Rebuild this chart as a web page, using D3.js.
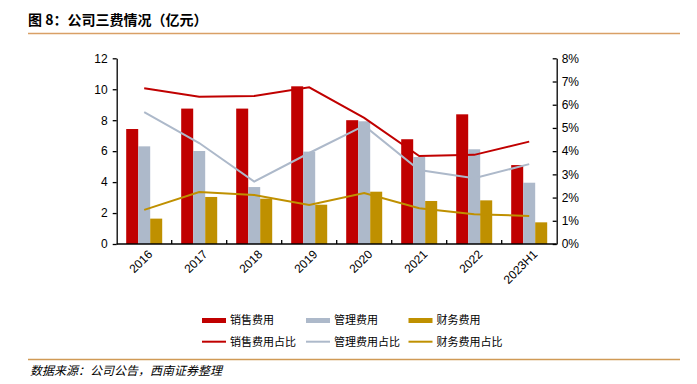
<!DOCTYPE html>
<html>
<head>
<meta charset="utf-8">
<script src="https://cdn.jsdelivr.net/npm/d3@7"></script>
<style>
  body { margin: 0; background: #fff; }
  svg { display: block; }
  .axis text { font-family: Arial, "Liberation Sans", sans-serif; font-size: 12px; fill: #000; }
  .axis path, .axis line { stroke: #000; stroke-width: 1.3; }
</style>
</head>
<body>
<svg id="chart" width="697" height="384"></svg>
<script>
// categories and values (亿元 / 占比%)
var years = ["2016", "2017", "2018", "2019", "2020", "2021", "2022", "2023H1"];
var sales = [7.43, 8.75, 8.75, 10.19, 8.0, 6.77, 8.38, 5.1];
var admin = [6.31, 6.01, 3.68, 5.97, 7.93, 5.62, 6.12, 3.96];
var finance = [1.64, 3.04, 2.93, 2.54, 3.38, 2.78, 2.82, 1.40];
var salesPct = [6.71, 6.34, 6.38, 6.75, 5.43, 3.79, 3.84, 4.41];
var adminPct = [5.68, 4.35, 2.69, 3.92, 5.10, 3.19, 2.83, 3.44];
var financePct = [1.47, 2.24, 2.11, 1.68, 2.20, 1.54, 1.28, 1.21];
var leftTicks = [0, 2, 4, 6, 8, 10, 12];
var rightTicks = [0, 1, 2, 3, 4, 5, 6, 7, 8];

var RED = "#c00000", GREY = "#adb9ca", GOLD = "#bf9000";

var svg = d3.select("#chart");

//title and rules
svg.append("text")
    .attr("x", 28).attr("y", 25)
    .text("图 8：公司三费情况（亿元）")
    .style("font-family", "'Noto Sans CJK SC', sans-serif")
    .style("font-size", "14px")
    .style("font-weight", "bold");
svg.append("line").attr("x1", 28).attr("x2", 680).attr("y1", 33.5).attr("y2", 33.5)
    .attr("stroke", "#d9a066").attr("stroke-width", 1.5);
svg.append("line").attr("x1", 28).attr("x2", 680).attr("y1", 359.5).attr("y2", 359.5)
    .attr("stroke", "#d09a56").attr("stroke-width", 1.5);
svg.append("text")
    .attr("x", 30).attr("y", 375)
    .text("数据来源：公司公告，西南证券整理")
    .style("font-family", "'Noto Sans CJK SC', sans-serif")
    .style("font-size", "12px")
    .style("font-style", "italic");

//scales
var x = d3.scaleBand().domain(years).range([116.7, 556.7]);
var y = d3.scaleLinear().domain([0, 12]).range([244, 58.3]);
var y2 = d3.scaleLinear().domain([0, 8]).range([244, 58.3]);
var sub = d3.scaleBand().domain(["s", "a", "f"]).range([9.5, x.bandwidth() - 9.5]);

//bars
var series = [["s", sales, RED], ["a", admin, GREY], ["f", finance, GOLD]];
series.forEach(function(s) {
    svg.append("g").selectAll("rect")
        .data(s[1])
        .enter().append("rect")
        .attr("x", (d, i) => x(years[i]) + sub(s[0]))
        .attr("width", sub.bandwidth())
        .attr("y", d => y(d))
        .attr("height", d => y(0) - y(d))
        .attr("fill", s[2]);
});

//lines
var lineGen = d3.line()
    .x((d, i) => x(years[i]) + x.bandwidth() / 2)
    .y(d => y2(d));
[[salesPct, RED], [adminPct, GREY], [financePct, GOLD]].forEach(function(l) {
    svg.append("path")
        .datum(l[0])
        .attr("d", lineGen)
        .attr("fill", "none")
        .attr("stroke", l[1])
        .attr("stroke-width", 2);
});

//axes
svg.append("g").attr("class", "axis")
    .attr("transform", "translate(116.7,0)")
    .call(d3.axisLeft(y).tickValues(leftTicks).tickSize(4).tickPadding(5).tickSizeOuter(0));
svg.append("g").attr("class", "axis")
    .attr("transform", "translate(556.7,0)")
    .call(d3.axisRight(y2).tickValues(rightTicks).tickSize(-4).tickPadding(5).tickSizeOuter(0)
        .tickFormat(d => d + "%"));

var xg = svg.append("g").attr("class", "axis");
xg.append("line").attr("x1", 116.7).attr("x2", 556.7).attr("y1", 244).attr("y2", 244)
    .attr("stroke", "#000").attr("stroke-width", 1.3);
xg.selectAll("line.tk")
    .data(years.slice(1))
    .enter().append("line")
    .attr("class", "tk")
    .attr("x1", d => x(d)).attr("x2", d => x(d))
    .attr("y1", 244).attr("y2", 240)
    .attr("stroke", "#000").attr("stroke-width", 1.3);
xg.selectAll("text")
    .data(years)
    .enter().append("text")
    .attr("transform", d => "translate(" + (x(d) + x.bandwidth() / 2 + 6) + ",252) rotate(-45)")
    .attr("text-anchor", "end")
    .attr("dy", "0.35em")
    .text(d => d);

//legend
var legendItems = [
    ["销售费用", RED, 202, "bar"], ["管理费用", GREY, 306, "bar"], ["财务费用", GOLD, 408.5, "bar"],
    ["销售费用占比", RED, 202, "line"], ["管理费用占比", GREY, 306, "line"], ["财务费用占比", GOLD, 408.5, "line"]
];
var legend = svg.append("g");
legendItems.forEach(function(it) {
    var ly = it[3] === "bar" ? 320.5 : 341.7;
    if (it[3] === "bar") {
        legend.append("rect").attr("x", it[2]).attr("y", ly - 2.5).attr("width", 24).attr("height", 5).attr("fill", it[1]);
    } else {
        legend.append("line").attr("x1", it[2]).attr("x2", it[2] + 24).attr("y1", ly).attr("y2", ly)
            .attr("stroke", it[1]).attr("stroke-width", 2);
    }
    legend.append("text")
        .attr("x", it[2] + 28).attr("y", ly)
        .attr("dy", "0.35em")
        .text(it[0])
        .style("font-family", "'Noto Sans CJK SC', sans-serif")
        .style("font-size", "11px");
});
</script>
</body>
</html>
